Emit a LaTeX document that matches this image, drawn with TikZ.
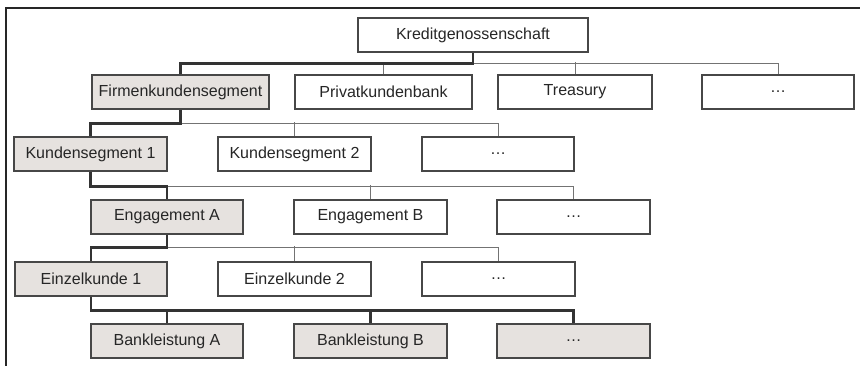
\documentclass[tikz,border=0pt]{standalone}
\usepackage{fontspec}
\setmainfont{Liberation Sans}
\definecolor{gfill}{RGB}{230,226,223}
\begin{document}
\begin{tikzpicture}[x=1pt,y=-1pt,
  box/.style={draw=black!72,line width=1.1pt,minimum height=34pt,inner sep=0pt,font=\fontsize{16}{19}\selectfont,text=black!85},
  wbox/.style={box,fill=white},
  gbox/.style={box,fill=gfill},
  thinline/.style={draw=black!55,line width=1pt},
  thickline/.style={draw=black!80,line width=2.1pt},
  framel/.style={draw=black!85,line width=1.3pt}]
\useasboundingbox (0,0) rectangle (860,366);
\draw[framel] (860,8) -- (6,8) -- (6,366);
% nodes
\node[wbox,minimum width=230pt] (K) at (473,35) {Kreditgenossenschaft};
\node[gbox,minimum width=177pt] (F) at (180.5,92) {Firmenkundensegment};
\node[wbox,minimum width=177pt] (P) at (383.5,92) {Privatkundenbank};
\node[wbox,minimum width=154pt] (T) at (575,92) {Treasury};
\node[wbox,minimum width=152pt] (D1) at (778,92) {…};
\node[gbox,minimum width=153pt] (KS1) at (90.5,154) {Kundensegment 1};
\node[wbox,minimum width=153pt] (KS2) at (294.5,154) {Kundensegment 2};
\node[wbox,minimum width=152pt] (D2) at (498,154) {…};
\node[gbox,minimum width=152pt] (EA) at (167,217) {Engagement A};
\node[wbox,minimum width=153pt] (EB) at (370.5,217) {Engagement B};
\node[wbox,minimum width=153pt] (D3) at (573.5,217) {…};
\node[gbox,minimum width=152pt] (E1) at (91,279) {Einzelkunde 1};
\node[wbox,minimum width=153pt] (E2) at (294.5,279) {Einzelkunde 2};
\node[wbox,minimum width=153pt] (D4) at (498.5,279) {…};
\node[gbox,minimum width=152pt] (BA) at (167,341) {Bankleistung A};
\node[gbox,minimum width=153pt] (BB) at (370.5,341) {Bankleistung B};
\node[gbox,minimum width=153pt] (D5) at (573.5,341) {…};
% level 1
\draw[thinline] (K.south) ++(0,11) -| (D1.north);
\draw[thinline] (P.north) -- ++(0,-12);
\draw[thinline] (T.north) -- ++(0,-12);
\draw[thickline] (K.south) -- ++(0,11) -| (F.north);
% level 2
\draw[thinline] (F.south) ++(0,14) -| (D2.north);
\draw[thinline] (KS2.north) -- ++(0,-14);
\draw[thickline] (F.south) -- ++(0,14) -| (KS1.north);
% level 3
\draw[thinline] (KS1.south) ++(0,15) -| (D3.north);
\draw[thinline] (EB.north) -- ++(0,-14);
\draw[thickline] (KS1.south) -- ++(0,15) -| (EA.north);
% level 4
\draw[thinline] (EA.south) ++(0,13) -| (D4.north);
\draw[thinline] (E2.north) -- ++(0,-15);
\draw[thickline] (EA.south) -- ++(0,13) -| (E1.north);
% level 5
\draw[thickline] (E1.south) -- ++(0,14) -| (D5.north);
\draw[thickline] (BA.north) -- ++(0,-14);
\draw[thickline] (BB.north) -- ++(0,-14);
\end{tikzpicture}
\end{document}
